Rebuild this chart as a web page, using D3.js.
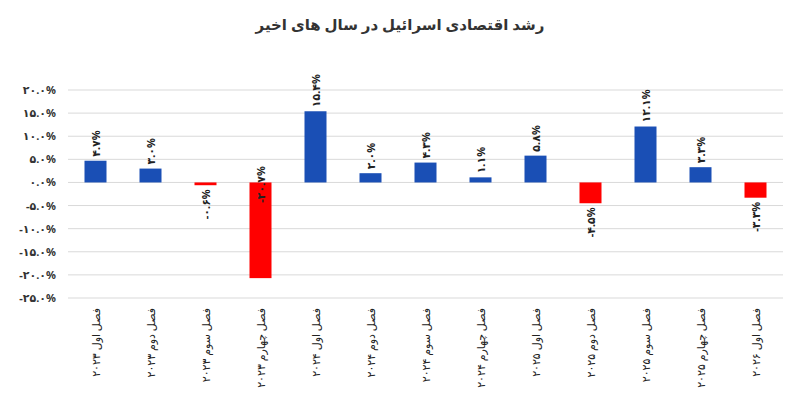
<!DOCTYPE html>
<html><head><meta charset="utf-8">
<script src="https://cdn.jsdelivr.net/npm/d3@7"></script>
<style>body{margin:0;background:#fff}text{font-family:"Noto Sans","DejaVu Sans",sans-serif}</style>
</head><body><svg id="c" width="800" height="404"></svg>
<script>
var categories = ["فصل اول ۲۰۲۳","فصل دوم ۲۰۲۳","فصل سوم ۲۰۲۳","فصل چهارم ۲۰۲۳","فصل اول ۲۰۲۴","فصل دوم ۲۰۲۴","فصل سوم ۲۰۲۴","فصل چهارم ۲۰۲۴","فصل اول ۲۰۲۵","فصل دوم ۲۰۲۵","فصل سوم ۲۰۲۵","فصل چهارم ۲۰۲۵","فصل اول ۲۰۲۶"]
var values = [4.7, 3.0, -0.6, -20.7, 15.4, 2.0, 4.3, 1.1, 5.8, -4.5, 12.1, 3.3, -3.3]
var yTicks = [20, 15, 10, 5, 0, -5, -10, -15, -20, -25]
var title = "رشد اقتصادی اسرائیل در سال های اخیر"

// persian digits, forced left-to-right
function fa(v) {
    return "\u200E" + v.toFixed(1).replace(/[0-9]/g, function(d) { return "۰۱۲۳۴۵۶۷۸۹"[+d] }) + "%"
}

var svg = d3.select("#c")
var x = d3.scaleBand().domain(categories).range([68, 783]).paddingInner(0.6).paddingOuter(0.3)
var y = d3.scaleLinear().domain([-25, 20]).range([298, 90])

svg.append("text").attr("x", 400).attr("y", 30).attr("text-anchor", "middle")
    .attr("font-size", 15).attr("font-weight", "bold").attr("fill", "#333").text(title)

svg.selectAll(".grid").data(yTicks).enter().append("line")
    .attr("x1", 68).attr("x2", 783)
    .attr("y1", function(d) { return y(d) }).attr("y2", function(d) { return y(d) })
    .attr("stroke", "#d9d9d9").attr("stroke-width", 1)

svg.selectAll(".yt").data(yTicks).enter().append("text")
    .attr("x", 56).attr("y", function(d) { return y(d) + 4 })
    .attr("text-anchor", "end").attr("direction", "ltr")
    .attr("font-size", 11).attr("font-weight", "bold").attr("fill", "#333")
    .text(fa)

svg.selectAll(".bar").data(values).enter().append("rect")
    .attr("x", function(d, i) { return x(categories[i]) })
    .attr("width", x.bandwidth())
    .attr("y", function(d) { return y(Math.max(0, d)) })
    .attr("height", function(d) { return Math.abs(y(d) - y(0)) })
    .attr("fill", function(d) { return d < 0 ? "#ff0000" : "#1a4fb5" })

svg.selectAll(".vl").data(values).enter().append("text")
    .attr("transform", function(d, i) {
        var cx = x(categories[i]) + x.bandwidth() / 2 + 4
        var py = d >= 0 ? y(d) - 4 : (d < -15 ? y(0) + 2 : y(d) + 4)
        return "translate(" + cx + "," + py + ") rotate(-90)"
    })
    .attr("text-anchor", function(d) { return d >= 0 ? "start" : (d < -15 ? "middle" : "end") })
    .attr("direction", "ltr")
    .attr("font-size", 11).attr("font-weight", "bold").attr("fill", "#222")
    .text(fa)

svg.selectAll(".xl").data(categories).enter().append("text")
    .attr("transform", function(d) {
        return "translate(" + (x(d) + x.bandwidth() / 2 + 4) + ",308) rotate(-90)"
    })
    .attr("text-anchor", "end").attr("font-size", 11).attr("fill", "#222")
    .text(function(d) { return d })
</script></body></html>
